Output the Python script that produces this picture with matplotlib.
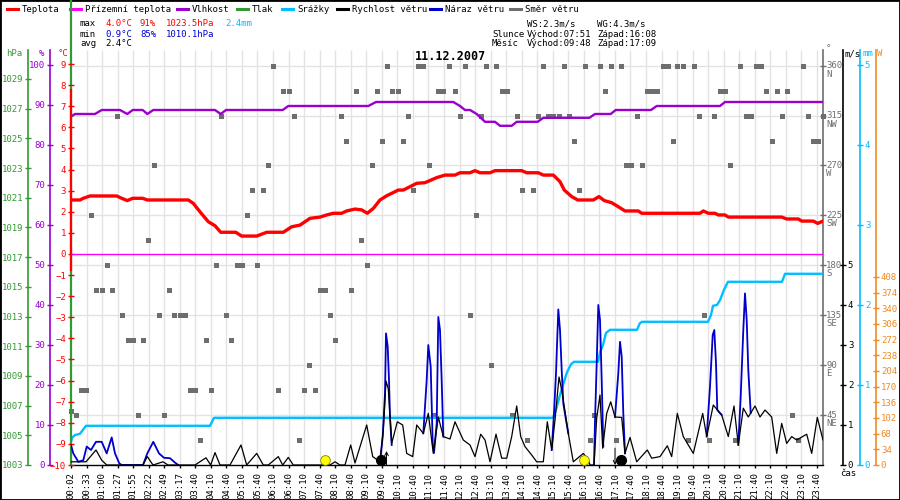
import numpy as np
import matplotlib
matplotlib.use("Agg")
import matplotlib.pyplot as plt
from matplotlib.lines import Line2D
from matplotlib.patches import Rectangle
from matplotlib.transforms import offset_copy

plt.rcParams['font.family'] = ['DejaVu Sans Mono', 'DejaVu Sans']
plt.rcParams['font.size'] = 6.5

# x positions are sample slots along the day (0 .. 752), one tick every 15.54 slots
TICK_STEP = 15.54
N_SLOTS = 752
early_ticks = ["00:02", "00:33", "01:00", "01:27", "01:55", "02:22", "02:49", "03:17"]
late_ticks = [f"{h:02d}:{m:02d}" for h in range(3, 24) for m in (10, 40)][1:]
tick_labels = early_ticks + late_ticks

# temperature (°C)
temp = [(0, 2.56), (9, 2.56), (12.3, 2.64), (19, 2.75), (45.7, 2.75), (50.7, 2.64), (56.3, 2.53),
        (61.7, 2.64), (71.7, 2.64), (76.3, 2.56), (117.3, 2.56), (122.3, 2.40), (129, 2.0),
        (137.3, 1.53), (144, 1.34), (149.7, 1.03), (164.7, 1.03), (170.7, 0.85), (185.7, 0.85),
        (195.7, 1.03), (212.3, 1.03), (220.7, 1.29), (229, 1.37), (239, 1.69), (249, 1.75),
        (255.7, 1.85), (262.3, 1.93), (270.7, 1.93), (275.7, 2.04), (284, 2.13), (290.7, 2.09),
        (296.3, 1.93), (302.3, 2.16), (309, 2.56), (315.7, 2.76), (327.3, 3.03), (332.3, 3.03),
        (345.7, 3.35), (354, 3.38), (365.7, 3.62), (374, 3.74), (384, 3.74), (389, 3.85),
        (399, 3.85), (404, 3.95), (409, 3.85), (419, 3.85), (424, 3.95), (450.7, 3.95),
        (455.7, 3.85), (467.3, 3.85), (472.3, 3.74), (482.3, 3.74), (489, 3.43), (493.3, 3.03),
        (500.7, 2.72), (506.7, 2.56), (522.3, 2.56), (528, 2.72), (533.3, 2.53), (540.7, 2.43),
        (547.3, 2.24), (554, 2.04), (567.3, 2.04), (570.7, 1.93), (629, 1.93), (632.3, 2.04),
        (637.3, 1.93), (644, 1.93), (647.3, 1.85), (654, 1.85), (657.3, 1.75), (710.7, 1.75),
        (715.7, 1.66), (727.3, 1.66), (730.7, 1.56), (742.3, 1.56), (746.7, 1.45), (752, 1.56)]

# ground temperature (°C)
ground = [(0, 0.0), (752, 0.0)]

# relative humidity (%)
humidity = [(0, 87.1), (4, 87.75), (24, 87.75), (30.7, 88.75), (49, 88.75), (56.3, 87.75),
            (61.7, 88.75), (71.7, 88.75), (76.3, 87.75), (82.3, 88.75), (144, 88.75),
            (149.7, 87.75), (155, 88.75), (211.7, 88.75), (217.3, 89.75), (297.3, 89.75),
            (305, 90.75), (382.3, 90.75), (389, 89.75), (394, 88.75), (399, 88.75),
            (405.7, 87.75), (414, 85.8), (424, 85.8), (429, 84.8), (440.7, 84.8), (445.7, 85.8),
            (466.7, 85.8), (472.3, 86.8), (518.3, 86.8), (524, 87.75), (539.7, 87.75),
            (544.7, 88.75), (580, 88.75), (585.7, 89.75), (649, 89.75), (654, 90.75), (752, 90.75)]

# cumulative rain (mm)
rain = [(0, 0.29), (1, 0.34), (4, 0.375), (9, 0.39), (12, 0.44), (15, 0.49), (139, 0.49),
        (141, 0.54), (143, 0.59), (482, 0.59), (485, 0.69), (489, 0.875), (492, 1.0),
        (496, 1.16), (500, 1.26), (503, 1.29), (527, 1.29), (529, 1.41), (532, 1.5),
        (535, 1.65), (539, 1.69), (566, 1.69), (569, 1.775), (571, 1.79), (637, 1.79),
        (640, 1.875), (642, 1.99), (646, 2.0), (649, 2.06), (653, 2.19), (657, 2.29),
        (711, 2.29), (714, 2.39), (752, 2.39)]

# wind speed (m/s)
wind = [(0, 0.08), (15, 0.08), (25, 0.375), (30.7, 0.12), (35.7, 0), (72, 0), (76.3, 0.21),
        (82, 0), (92, 0.08), (97, 0), (124, 0), (135, 0.18), (139.7, 0), (144, 0.31), (149, 0),
        (159, 0), (170, 0.5), (175.7, 0), (185.7, 0.29), (192.3, 0), (197.3, 0), (207.3, 0.21),
        (211.7, 0), (217.3, 0.19), (222.3, 0), (259, 0), (264, 0.08), (269, 0), (274, 0),
        (279.7, 0.5), (284, 0.05), (295.7, 1.0), (301.7, 0.21), (309, 0.08), (312.3, 0.875),
        (315, 2.1), (317.3, 1.9), (320.7, 0.54), (326.3, 1.08), (331.7, 1.0), (335.7, 0.29),
        (341.7, 0.21), (345.7, 1.0), (352.3, 0.79), (357.3, 1.29), (362.3, 0.29), (367.3, 1.2),
        (372.3, 0.71), (379, 0.65), (384, 1.08), (392.3, 0.625), (399, 0.5), (404, 0.21),
        (409.7, 0.77), (414, 0.625), (419, 0.08), (425, 0.77), (430.7, 0.17), (435.7, 0.17),
        (440.7, 0.71), (445.7, 1.475), (449.7, 0.71), (454, 0.46), (460.7, 0.25),
        (465.7, 0.08), (472.3, 0.08), (476.3, 1.08), (480.7, 0.375), (484, 1.125), (488, 2.2),
        (490.7, 1.875), (494, 1.33), (497.3, 0.79), (502.3, 0.08), (512.3, 0.29),
        (517.3, 0.125), (519, 0), (523, 0), (525.7, 1.17), (529, 1.75), (531.7, 0.42),
        (535.7, 1.29), (539.7, 1.58), (544, 1.2), (550.7, 1.19), (554, 0.29), (559, 0.69),
        (565.7, 0.08), (576.3, 0.375), (580.7, 0.17), (589, 0.21), (596.3, 0.48),
        (600.7, 0.21), (606.3, 1.29), (612.3, 0.71), (622.3, 0.29), (631.7, 1.29),
        (635.7, 0.71), (642.3, 1.5), (650.7, 1.25), (657.3, 0.71), (663, 1.475), (667.3, 0.5),
        (672.3, 1.42), (677.3, 1.2), (684, 1.475), (689, 1.2), (694, 1.375), (700.7, 1.2),
        (705.7, 0.29), (710.7, 1.04), (715.7, 0.54), (720.7, 0.71), (725.7, 0.625),
        (735.7, 0.77), (740.7, 0.29), (746.3, 1.19), (752, 0.625)]

# wind gusts (m/s), only where they rise above the mean wind
gust_segments = [
    [(0, 0.5), (2.3, 0.29), (7.3, 0.08), (12.3, 0.12), (15.7, 0.46), (20, 0.375), (25, 0.58),
     (30.7, 0.58), (35.7, 0.29), (40.7, 0.69), (44, 0.29), (48.3, 0.04), (50.7, 0), (72, 0),
     (76.3, 0.29), (82.3, 0.58), (88, 0.29), (93, 0.18), (99, 0.17), (104, 0.06), (107.3, 0)],
    [(309, 0.08), (311.7, 0.71), (314, 1.79), (315, 3.29), (316.7, 2.96), (318, 2.125),
     (319, 1.2), (320.7, 0.5)],
    [(352.3, 0.79), (355.7, 2.125), (357.3, 3.0), (359.7, 2.46), (361.7, 0.54), (363, 0.3),
     (365.7, 1.04), (367.3, 3.7), (369, 3.37), (370.7, 2.1), (372.3, 0.71)],
    [(480.7, 0.375), (483, 1.29), (485, 2.29), (487.3, 3.89), (489, 3.375), (490.7, 2.375),
     (492.3, 1.54), (495, 1.125), (497.3, 0.79)],
    [(523, 0), (524, 1.1), (525.7, 2.54), (527.3, 4.0), (529, 3.625), (530.7, 2.125),
     (532.3, 0.46)],
    [(544, 1.2), (547.3, 2.29), (549, 3.08), (550.7, 2.71), (552.3, 1.29), (554, 0.29)],
    [(635.7, 0.71), (639, 1.96), (641.7, 3.25), (643.3, 3.375), (645, 2.54), (646.3, 1.375),
     (650.7, 1.25)],
    [(667.3, 0.5), (669.7, 1.71), (672.3, 3.375), (674, 4.29), (675.7, 3.625), (677.3, 2.375),
     (679.7, 1.3)],
]

# wind direction (degrees)
direction = [(0, 49), (5, 45), (10, 67.5), (15, 67.5), (20, 225), (25, 157.5), (31, 157.5),
             (35.7, 180), (41, 157.5), (45.7, 315), (51, 135), (57, 112.5), (62, 112.5),
             (67, 45), (72, 112.5), (76.7, 202.5), (83, 270), (88, 135), (93, 45), (98, 157.5),
             (103, 135), (109, 135), (114, 135), (119, 67.5), (124, 67.5), (129, 22.5),
             (135, 112.5), (140, 67.5), (144.7, 180), (150, 315), (155, 135), (160, 112.5),
             (165.7, 180), (170.7, 180), (175.7, 225), (180.7, 247.5), (185.7, 180),
             (191.7, 247.5), (197, 270), (201.7, 360), (207, 67.5), (211.7, 337.5),
             (217.7, 337.5), (223, 315), (228, 22.5), (233, 67.5), (238, 90), (244, 67.5),
             (249, 157.5), (254, 157.5), (259, 135), (264, 112.5), (269.7, 315), (275, 292.5),
             (280, 157.5), (285, 337.5), (289.7, 202.5), (295.7, 180), (300.7, 270),
             (305.7, 337.5), (310.7, 292.5), (315.7, 360), (320.7, 337.5), (327, 337.5),
             (331.7, 292.5), (336.7, 315), (341.7, 247.5), (346.7, 360), (352.3, 360),
             (357.7, 270), (361.7, 45), (367, 337.5), (372, 337.5), (378, 360), (384, 337.5),
             (389, 315), (394, 360), (399, 135), (405, 225), (409.7, 315), (414.7, 360),
             (419.7, 90), (424.7, 360), (430.7, 337.5), (435.7, 337.5), (441, 45),
             (445.7, 315), (450.7, 247.5), (455.7, 22.5), (461.7, 247.5), (466.7, 315),
             (471.7, 360), (477.3, 315), (482.3, 315), (488, 315), (492.7, 360), (498, 315),
             (503, 292.5), (508, 247.5), (514, 360), (519, 22.5), (523.3, 45), (528.7, 360),
             (534, 337.5), (539.7, 360), (544.7, 22.5), (549.7, 360), (554.7, 270),
             (559.7, 270), (565.7, 315), (570.7, 270), (575.7, 337.5), (580.7, 337.5),
             (585.7, 337.5), (591.7, 360), (596.7, 360), (602, 292.5), (606.3, 360),
             (611.7, 360), (616.7, 22.5), (622.7, 360), (628, 315), (633, 135), (638, 22.5),
             (643, 315), (649, 337.5), (654, 337.5), (659, 270), (663.7, 22.5), (669, 360),
             (675, 315), (680, 315), (684.7, 360), (689.7, 360), (694.7, 337.5),
             (700.7, 292.5), (705.7, 337.5), (710.7, 315), (715.7, 337.5), (720.7, 45),
             (726.7, 22.5), (731.7, 360), (736.7, 315), (741.7, 292.5), (746.7, 292.5),
             (752.3, 315)]

# sun / moon rise and set marks (slot)
sun_marks = [253.5, 513.0]
moon_marks = [310.0, 550.0]
moon_rise = 315.5
moon_set = 544.0

dir_ticks = [45, 90, 135, 180, 225, 270, 315, 360]
dir_names = ["NE", "E", "SE", "S", "SW", "W", "NW", "N"]

C_TEMP = '#ff0000'
C_GROUND = '#ff00ff'
C_HUM = '#9900cc'
C_PRES = '#339933'
C_RAIN = '#00bfff'
C_WIND = '#000000'
C_GUST = '#0000cc'
C_DIR = '#6e6e6e'
C_SOL = '#f08a24'
C_GRID = '#e3e3e3'

W, H = 900, 500


def fx(px):
    return px / W


def fy(py):
    return 1 - py / H


fig = plt.figure(figsize=(9, 5), dpi=100, facecolor='white')
rect = [fx(71), fy(465), (823 - 71) / W, (465 - 50) / H]


def make_axes(zorder, share=None):
    ax = fig.add_axes(rect, sharex=share)
    ax.patch.set_visible(False)
    ax.set_zorder(zorder)
    for s in ax.spines.values():
        s.set_visible(False)
    return ax


def style_y(ax, side, pos, color, ticks, labels=None, lim=None):
    ax.set_ylim(*lim)
    sp = ax.spines[side]
    sp.set_visible(True)
    sp.set_color(color)
    sp.set_linewidth(1.2)
    sp.set_position(('axes', pos))
    if side == 'left':
        ax.yaxis.tick_left()
    else:
        ax.yaxis.tick_right()
    ax.set_yticks(ticks)
    if labels is not None:
        ax.set_yticklabels(labels)
    ax.tick_params(axis='y', direction='inout', length=4, width=1, colors=color,
                   pad=1.5, labelsize=6.5)


# direction axes: grid, squares, x axis
ax_d = make_axes(1)
ax_d.set_xlim(0, N_SLOTS)
tick_pos = np.arange(len(tick_labels)) * TICK_STEP
ax_d.set_xticks(tick_pos)
ax_d.set_xticklabels(tick_labels, rotation=90)
ax_d.tick_params(axis='x', length=2, width=1, pad=3, labelsize=6.5)
ax_d.spines['bottom'].set_visible(True)
ax_d.spines['bottom'].set_linewidth(1)
ax_d.vlines(tick_pos[1:], 0, 1, transform=ax_d.get_xaxis_transform(), color=C_GRID, lw=1, zorder=0)
style_y(ax_d, 'right', 1.0, C_DIR, dir_ticks, labels=[''] * len(dir_ticks), lim=(0, 374.1))
ax_d.hlines(dir_ticks, 0, N_SLOTS, color=C_GRID, lw=1, zorder=0)
dx, dv = np.array(direction).T
ax_d.plot(dx, dv, 's', color=C_DIR, markersize=3.6, markeredgewidth=0, clip_on=False, zorder=3)
lab_tr = ax_d.get_yaxis_transform()
for d, name in zip(dir_ticks, dir_names):
    ax_d.text(1.004, d, str(d), transform=lab_tr, color=C_DIR, ha='left', va='center', fontsize=6.5)
    ax_d.text(1.004, d, name, color=C_DIR, ha='left', va='center', fontsize=6.5,
              transform=offset_copy(lab_tr, fig=fig, y=-8.5, units='dots'))

# pressure axis (left, outermost)
ax_p = make_axes(0.5, ax_d)
ax_p.xaxis.set_visible(False)
style_y(ax_p, 'left', (28 - 71) / 752, C_PRES, np.arange(1003, 1030, 2), lim=(1003, 1030.95))

# humidity axis
ax_h = make_axes(3, ax_d)
ax_h.xaxis.set_visible(False)
style_y(ax_h, 'left', (50 - 71) / 752, C_HUM, np.arange(0, 101, 10), lim=(0, 103.75))
hx, hv = np.array(humidity).T
ax_h.plot(hx, hv, color=C_HUM, lw=1.7, solid_capstyle='butt')

# rain axis
ax_r = make_axes(2, ax_d)
ax_r.xaxis.set_visible(False)
style_y(ax_r, 'right', (860 - 71) / 752, C_RAIN, np.arange(0, 6), lim=(0, 5.1875))
rx, rv = np.array(rain).T
ax_r.plot(rx, rv, color=C_RAIN, lw=1.7)

# solar radiation axis (no data drawn)
ax_s = make_axes(0.5, ax_d)
ax_s.xaxis.set_visible(False)
style_y(ax_s, 'right', (876 - 71) / 752, C_SOL, np.arange(0, 409, 34), lim=(0, 900.6))

# temperature axis
ax_t = make_axes(4, ax_d)
ax_t.xaxis.set_visible(False)
style_y(ax_t, 'left', 0.0, C_TEMP, np.arange(-10, 10), lim=(-10, 9.668))
ax_t.spines['left'].set_bounds(-0.76, 7.77)
ax_t.spines['left'].set_linewidth(1.6)
ax_t.axvline(0, ymin=0, ymax=465 / 415, color=C_PRES, lw=1.6, clip_on=False, zorder=1)
gx, gv = np.array(ground).T
ax_t.plot(gx, gv, color=C_GROUND, lw=1)
tx, tv = np.array(temp).T
ax_t.plot(tx, tv, color=C_TEMP, lw=2.4, solid_joinstyle='round')

# wind axis
ax_w = make_axes(5, ax_d)
ax_w.xaxis.set_visible(False)
style_y(ax_w, 'right', (843 - 71) / 752, C_WIND, np.arange(0, 6), lim=(0, 10.375))
for seg in gust_segments:
    sx, sv = np.array(seg).T
    ax_w.plot(sx, sv, color=C_GUST, lw=1.3)
wx, wv = np.array(wind).T
ax_w.plot(wx, wv, color=C_WIND, lw=0.9)
ax_w.plot(sun_marks, [0.125] * len(sun_marks), 'o', color='#ffff00', markeredgecolor='#808000',
          markeredgewidth=0.6, markersize=7, clip_on=False)
ax_w.plot(moon_marks, [0.125] * len(moon_marks), 'o', color='black', markersize=7, clip_on=False)
ax_w.annotate('', xy=(moon_rise, 0.35), xytext=(moon_rise, 0),
              arrowprops=dict(arrowstyle='->', lw=0.7, color='black', shrinkA=0, shrinkB=0))
ax_w.annotate('', xy=(moon_set, 0), xytext=(moon_set, 0.42),
              arrowprops=dict(arrowstyle='->', lw=0.7, color='black', shrinkA=0, shrinkB=0))

# unit labels
fig.text(fx(14), fy(54), 'hPa', color=C_PRES, ha='center', va='center')
fig.text(fx(42), fy(54), '%', color=C_HUM, ha='center', va='center')
fig.text(fx(63), fy(54), '°C', color=C_TEMP, ha='center', va='center')
fig.text(fx(828), fy(49), '°', color=C_DIR, ha='center', va='center')
fig.text(fx(853), fy(54), 'm/s', color=C_WIND, ha='center', va='center')
fig.text(fx(868), fy(54), 'mm', color=C_RAIN, ha='center', va='center')
fig.text(fx(880), fy(54), 'W', color=C_SOL, ha='center', va='center')
fig.text(fx(848), fy(474), 'čas', color='black', ha='center', va='center')

# title
fig.text(fx(450), fy(57), '11.12.2007', ha='center', va='center', fontsize=8.5, fontweight='bold')

# legend row
legend = [(7, 'Teplota', C_TEMP), (70, 'Přízemní teplota', C_GROUND), (177, 'Vlhkost', C_HUM),
          (237, 'Tlak', C_PRES), (282, 'Srážky', C_RAIN), (337, 'Rychlost větru', C_WIND),
          (430, 'Náraz větru', C_GUST), (510, 'Směr větru', C_DIR)]
for x0, name, col in legend:
    fig.add_artist(Line2D([fx(x0), fx(x0 + 11)], [fy(9), fy(9)], color=col, lw=2.2))
    fig.text(fx(x0 + 15), fy(9), name, ha='left', va='center')

# statistics block
rows = [24, 34, 44]
fig.text(fx(80), fy(rows[0]), 'max', va='center')
fig.text(fx(105), fy(rows[0]), '4.0°C', color=C_TEMP, va='center')
fig.text(fx(140), fy(rows[0]), '91%', color=C_TEMP, va='center')
fig.text(fx(166), fy(rows[0]), '1023.5hPa', color=C_TEMP, va='center')
fig.text(fx(225), fy(rows[0]), '2.4mm', color=C_RAIN, va='center')
fig.text(fx(80), fy(rows[1]), 'min', va='center')
fig.text(fx(105), fy(rows[1]), '0.9°C', color=C_GUST, va='center')
fig.text(fx(140), fy(rows[1]), '85%', color=C_GUST, va='center')
fig.text(fx(166), fy(rows[1]), '1010.1hPa', color=C_GUST, va='center')
fig.text(fx(80), fy(rows[2]), 'avg', va='center')
fig.text(fx(105), fy(rows[2]), '2.4°C', va='center')

fig.text(fx(527), fy(rows[0]), 'WS:2.3m/s', va='center')
fig.text(fx(597), fy(rows[0]), 'WG:4.3m/s', va='center')
fig.text(fx(492), fy(rows[1]), 'Slunce', va='center')
fig.text(fx(527), fy(rows[1]), 'Východ:07:51', va='center')
fig.text(fx(597), fy(rows[1]), 'Západ:16:08', va='center')
fig.text(fx(492), fy(rows[2]), 'Měsíc', va='center')
fig.text(fx(527), fy(rows[2]), 'Východ:09:48', va='center')
fig.text(fx(597), fy(rows[2]), 'Západ:17:09', va='center')

fig.add_artist(Rectangle((0, 0), 1, 1, transform=fig.transFigure, fill=False,
                         edgecolor='black', lw=2))

fig.savefig('out.png', dpi=100, facecolor='white')
